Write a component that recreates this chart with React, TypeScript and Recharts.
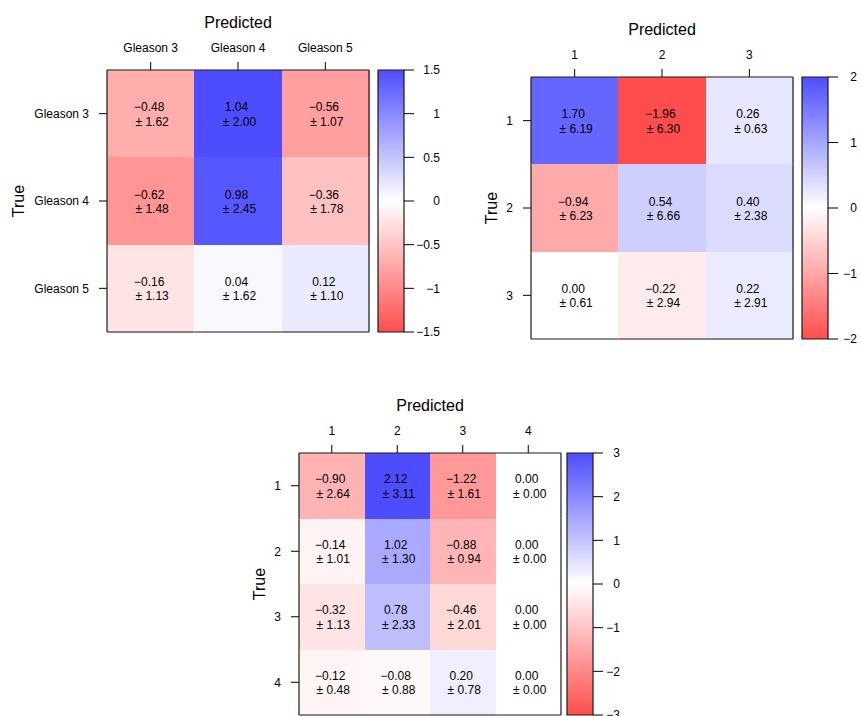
import React from 'react';
import { ScatterChart, Scatter, XAxis, YAxis, BarChart, Bar } from 'recharts';

const PAGE_W = 861;
const PAGE_H = 730;
const BOX = 262;
const FONT = '"Liberation Sans", Arial, Helvetica, sans-serif';
const DEEP = 77; // darkest channel value at the ends of the palette
const EDGE = '#1a1a1a';

// Gleason grade model: mean difference ± sd per (true, predicted) cell
const gleasonClasses = ['Gleason 3', 'Gleason 4', 'Gleason 5'];
const gleasonMean = [
  [-0.48, 1.04, -0.56],
  [-0.62, 0.98, -0.36],
  [-0.16, 0.04, 0.12],
];
const gleasonSd = [
  [1.62, 2.0, 1.07],
  [1.48, 2.45, 1.78],
  [1.13, 1.62, 1.1],
];
const gleasonScale = [-1.5, -1, -0.5, 0, 0.5, 1, 1.5];

// three class model
const threeClasses = ['1', '2', '3'];
const threeMean = [
  [1.7, -1.96, 0.26],
  [-0.94, 0.54, 0.4],
  [0.0, -0.22, 0.22],
];
const threeSd = [
  [6.19, 6.3, 0.63],
  [6.23, 6.66, 2.38],
  [0.61, 2.94, 2.91],
];
const threeScale = [-2, -1, 0, 1, 2];

// four class model
const fourClasses = ['1', '2', '3', '4'];
const fourMean = [
  [-0.9, 2.12, -1.22, 0.0],
  [-0.14, 1.02, -0.88, 0.0],
  [-0.32, 0.78, -0.46, 0.0],
  [-0.12, -0.08, 0.2, 0.0],
];
const fourSd = [
  [2.64, 3.11, 1.61, 0.0],
  [1.01, 1.3, 0.94, 0.0],
  [1.13, 2.33, 2.01, 0.0],
  [0.48, 0.88, 0.78, 0.0],
];
const fourScale = [-3, -2, -1, 0, 1, 2, 3];

const minus = (s: string) => s.replace('-', '\u2212');
const fmtTick = (v: number) => minus(String(v));

const cellColor = (v: number, maxAbs: number) => {
  const t = maxAbs === 0 ? 0 : Math.min(1, Math.abs(v) / maxAbs);
  const c = Math.round(255 - (255 - DEEP) * t);
  return v >= 0 ? `rgb(${c},${c},255)` : `rgb(255,${c},${c})`;
};

const toCells = (mean: number[][], sd: number[][]) =>
  mean.flatMap((row, r) => row.map((m, c) => ({ row: r, col: c, mean: m, sd: sd[r][c] })));

// one tile of the matrix; tiles on the outside also draw their part of the frame
const HeatCell = (props: any) => {
  const { cx, cy, payload, size, maxAbs, n } = props;
  const h = size / 2;
  const x0 = cx - h;
  const y0 = cy - h;
  const x1 = cx + h;
  const y1 = cy + h;
  return (
    <g>
      <rect x={x0} y={y0} width={size + 0.5} height={size + 0.5} fill={cellColor(payload.mean, maxAbs)} shapeRendering="crispEdges" />
      <text x={cx - 1.5} y={cy - 2.5} textAnchor="middle" fontSize={12} fill="#000">
        {minus(payload.mean.toFixed(2))}
      </text>
      <text x={cx + 1.5} y={cy + 12} textAnchor="middle" fontSize={12} fill="#000">
        {'\u00b1 ' + payload.sd.toFixed(2)}
      </text>
      {payload.row === 0 && <line x1={x0} y1={y0} x2={x1} y2={y0} stroke={EDGE} strokeWidth={1.2} />}
      {payload.row === n - 1 && <line x1={x0} y1={y1} x2={x1} y2={y1} stroke={EDGE} strokeWidth={1.2} />}
      {payload.col === 0 && <line x1={x0} y1={y0} x2={x0} y2={y1} stroke={EDGE} strokeWidth={1.2} />}
      {payload.col === n - 1 && <line x1={x1} y1={y0} x2={x1} y2={y1} stroke={EDGE} strokeWidth={1.2} />}
    </g>
  );
};

type PanelProps = {
  id: string;
  classes: string[];
  mean: number[][];
  sd: number[][];
  scale: number[];
  boxX: number;
  boxY: number;
  barX: number;
  labelEdge: number;
  trueGap: number;
};

const AXW = 80;
const AXH = 40;
const CBW = 26;
const CBAXW = 60;

const HeatPanel = ({ id, classes, mean, sd, scale, boxX, boxY, barX, labelEdge, trueGap }: PanelProps) => {
  const n = classes.length;
  const cells = toCells(mean, sd);
  const maxAbs = Math.max(...cells.map((d) => Math.abs(d.mean)));
  const step = BOX / n;
  const idx = classes.map((_, i) => i);
  const lo = scale[0];
  const hi = scale[scale.length - 1];
  const bar = [{ key: id, range: [lo, hi] }];
  const tickStyle = { fill: '#000', fontSize: 12 };

  return (
    <>
      <div style={{ position: 'absolute', left: 0, top: 0 }}>
        <ScatterChart
          width={PAGE_W}
          height={PAGE_H}
          margin={{ top: boxY - AXH, left: boxX - AXW, right: PAGE_W - boxX - BOX, bottom: PAGE_H - boxY - BOX }}
        >
          <XAxis
            type="number"
            dataKey="col"
            orientation="top"
            domain={[-0.5, n - 0.5]}
            ticks={idx}
            interval={0}
            tickFormatter={(i: number) => classes[i]}
            axisLine={false}
            tickLine={{ stroke: '#000' }}
            tickSize={8}
            tickMargin={10}
            height={AXH}
            tick={tickStyle}
          />
          <YAxis
            type="number"
            dataKey="row"
            reversed
            domain={[-0.5, n - 0.5]}
            ticks={idx}
            interval={0}
            tickFormatter={(i: number) => classes[i]}
            axisLine={false}
            tickLine={{ stroke: '#000' }}
            tickSize={8}
            tickMargin={10}
            width={AXW}
            tick={tickStyle}
          />
          <Scatter
            data={cells}
            isAnimationActive={false}
            shape={(p: any) => <HeatCell {...p} size={step} maxAbs={maxAbs} n={n} />}
          />
          <text x={boxX + BOX / 2} y={boxY - 42} textAnchor="middle" fontSize={16} fill="#000">
            Predicted
          </text>
          <text
            transform={`translate(${boxX - trueGap}, ${boxY + BOX / 2}) rotate(-90)`}
            textAnchor="middle"
            fontSize={16}
            fill="#000"
          >
            True
          </text>
        </ScatterChart>
      </div>
      <div style={{ position: 'absolute', left: 0, top: 0 }}>
        <BarChart
          width={PAGE_W}
          height={PAGE_H}
          data={bar}
          barCategoryGap={0}
          margin={{ top: boxY, bottom: PAGE_H - boxY - BOX, left: barX, right: PAGE_W - barX - CBW - CBAXW }}
        >
          <defs>
            <linearGradient id={`cb-${id}`} x1="0" y1="0" x2="0" y2="1">
              <stop offset="0%" stopColor={`rgb(${DEEP},${DEEP},255)`} />
              <stop offset="50%" stopColor="#ffffff" />
              <stop offset="100%" stopColor={`rgb(255,${DEEP},${DEEP})`} />
            </linearGradient>
          </defs>
          <XAxis dataKey="key" hide />
          <YAxis
            orientation="right"
            type="number"
            domain={[lo, hi]}
            ticks={scale}
            interval={0}
            tickFormatter={fmtTick}
            width={CBAXW}
            axisLine={false}
            tickLine={{ stroke: '#000' }}
            tickSize={10}
            tickMargin={labelEdge - barX - CBW - 10}
            tick={{ ...tickStyle, textAnchor: 'end' }}
          />
          <Bar dataKey="range" fill={`url(#cb-${id})`} stroke={EDGE} strokeWidth={1.2} isAnimationActive={false} />
        </BarChart>
      </div>
    </>
  );
};

export default function App() {
  return (
    <div style={{ position: 'absolute', left: 0, top: 0, width: PAGE_W, height: 716, fontFamily: FONT, background: '#fff' }}>
      <HeatPanel
        id="gleason"
        classes={gleasonClasses}
        mean={gleasonMean}
        sd={gleasonSd}
        scale={gleasonScale}
        boxX={107}
        boxY={70}
        barX={378}
        labelEdge={440}
        trueGap={83}
      />
      <HeatPanel
        id="three"
        classes={threeClasses}
        mean={threeMean}
        sd={threeSd}
        scale={threeScale}
        boxX={531}
        boxY={77}
        barX={802}
        labelEdge={857}
        trueGap={34}
      />
      <HeatPanel
        id="four"
        classes={fourClasses}
        mean={fourMean}
        sd={fourSd}
        scale={fourScale}
        boxX={299}
        boxY={453}
        barX={567}
        labelEdge={620}
        trueGap={34}
      />
    </div>
  );
}
